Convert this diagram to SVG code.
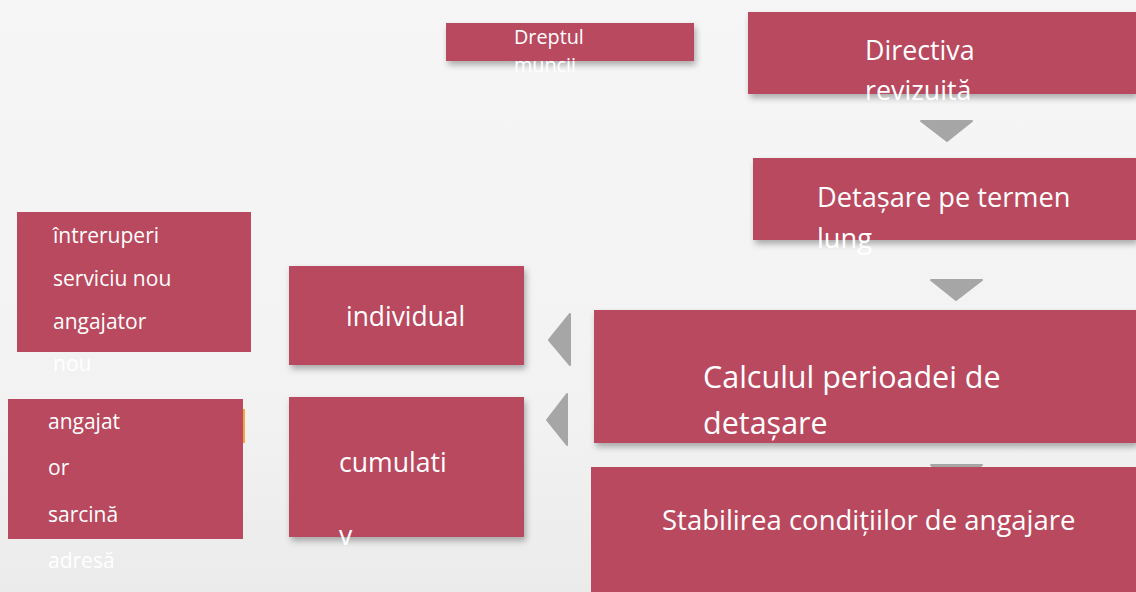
<svg xmlns="http://www.w3.org/2000/svg" width="1136" height="592" viewBox="0 0 1136 592">
<defs>
<filter id="sh" x="-10%" y="-20%" width="130%" height="160%">
<feDropShadow dx="2" dy="4" stdDeviation="3" flood-color="#000" flood-opacity="0.3"/>
</filter>
<linearGradient id="bg" x1="0" y1="0" x2="0" y2="1">
<stop offset="0" stop-color="#f6f6f6"/>
<stop offset="0.7" stop-color="#f2f2f2"/>
<stop offset="1" stop-color="#ebebeb"/>
</linearGradient>
</defs>
<style>
.box{fill:#b8495e}
.t{fill:#ffffff;font-family:"Open Sans","Noto Sans","DejaVu Sans",sans-serif}
.arr{fill:#a6a6a6;stroke:#a6a6a6;stroke-width:2;stroke-linejoin:round}
</style>
<rect x="0" y="0" width="1136" height="592" fill="url(#bg)"/>
<g id="connectors">
<polygon class="arr" points="921,121 972,121 947,141"/>
<polygon class="arr" points="931,280 982,280 956,300"/>
<polygon class="arr" points="931,465 982,465 956,485"/>
<polygon class="arr" points="570,314 570,365 549,340"/>
<polygon class="arr" points="567,394 567,445 547,420"/>
</g>
<g id="dreptul">
<rect class="box" x="446" y="23" width="248" height="38" filter="url(#sh)"/>
<text class="t" x="514" y="44" font-size="19.8">Dreptul</text>
<text class="t" x="514" y="72" font-size="19.8">muncii</text>
</g>
<g id="directiva">
<rect class="box" x="748" y="12" width="388" height="82" filter="url(#sh)"/>
<text class="t" x="865" y="60" font-size="26.8">Directiva</text>
<text class="t" x="865" y="100" font-size="26.8">revizuită</text>
</g>
<g id="detasare">
<rect class="box" x="753" y="158" width="383" height="82" filter="url(#sh)"/>
<text class="t" x="817" y="207" font-size="27.2">Detașare pe termen</text>
<text class="t" x="817" y="248" font-size="27.2">lung</text>
</g>
<g id="calculul">
<rect class="box" x="594" y="310" width="542" height="133" filter="url(#sh)"/>
<text class="t" x="703" y="388" font-size="30.5">Calculul perioadei de</text>
<text class="t" x="703" y="434" font-size="30.5">detașare</text>
</g>
<g id="stabilirea">
<rect class="box" x="591" y="467" width="545" height="125"/>
<text class="t" x="662" y="530" font-size="27.5">Stabilirea condițiilor de angajare</text>
</g>
<g id="individual">
<rect class="box" x="289" y="266" width="235" height="99" filter="url(#sh)"/>
<text class="t" x="346" y="326" font-size="26.4">individual</text>
</g>
<g id="cumulativ">
<rect class="box" x="289" y="397" width="235" height="140" filter="url(#sh)"/>
<text class="t" x="339" y="472" font-size="26.6">cumulati</text>
<text class="t" x="339" y="545" font-size="26.6">v</text>
</g>
<g id="intreruperi">
<rect class="box" x="17" y="212" width="234" height="140"/>
<text class="t" x="53" y="243" font-size="21">întreruperi</text>
<text class="t" x="53" y="286" font-size="21">serviciu nou</text>
<text class="t" x="53" y="329" font-size="21">angajator</text>
<text class="t" x="53" y="371" font-size="21">nou</text>
</g>
<g id="angajator">
<rect x="241" y="409" width="4" height="34" fill="#f5a63a"/>
<rect class="box" x="8" y="399" width="235" height="140"/>
<text class="t" x="48" y="429" font-size="21">angajat</text>
<text class="t" x="48" y="475" font-size="21">or</text>
<text class="t" x="48" y="522" font-size="21">sarcină</text>
<text class="t" x="48" y="568" font-size="21">adresă</text>
</g>
</svg>
